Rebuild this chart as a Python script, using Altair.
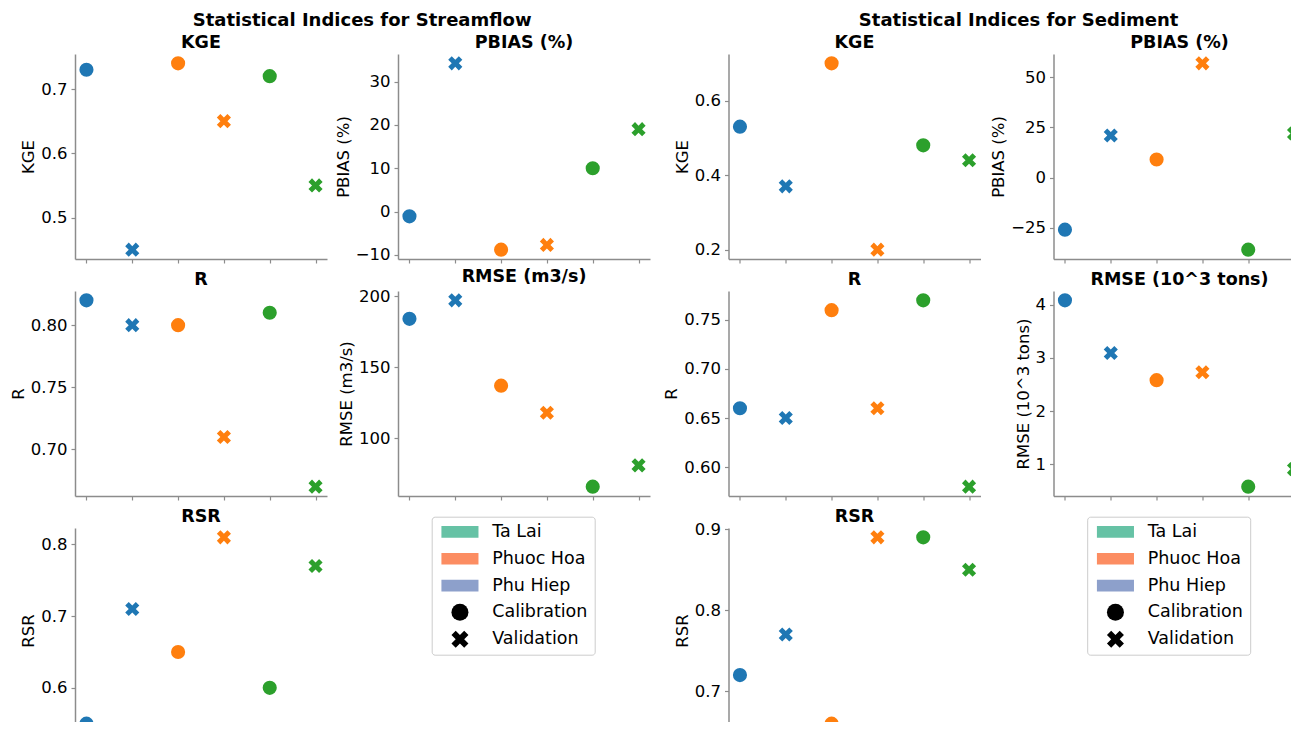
import altair as alt
import pandas as pd

FONT = "DejaVu Sans"

# ---- categories ----
stations = ["Phu Hiep", "Phu Hiep", "Phuoc Hoa", "Phuoc Hoa", "Ta Lai", "Ta Lai"]
periods = ["Calibration", "Validation", "Calibration", "Validation", "Calibration", "Validation"]
station_order = ["Phu Hiep", "Phuoc Hoa", "Ta Lai"]
period_order = ["Calibration", "Validation"]
point_keys = [f"{s} - {p}" for s, p in zip(stations, periods)]

# ---- streamflow indices ----
flow_kge = [0.73, 0.45, 0.74, 0.65, 0.72, 0.55]
flow_pbias = [-1.1, 34.2, -8.8, -7.7, 10.0, 19.0]
flow_r = [0.82, 0.80, 0.80, 0.71, 0.81, 0.67]
flow_rmse = [184, 197, 137, 118, 66, 81]
flow_rsr = [0.55, 0.71, 0.65, 0.81, 0.60, 0.77]

# ---- sediment indices ----
sed_kge = [0.53, 0.37, 0.70, 0.20, 0.48, 0.44]
sed_pbias = [-26, 21, 9, 57, -36, 22]
sed_r = [0.66, 0.65, 0.76, 0.66, 0.77, 0.58]
sed_rmse = [4.08, 3.09, 2.58, 2.73, 0.58, 0.91]
sed_rsr = [0.72, 0.77, 0.66, 0.89, 0.89, 0.85]

# ---- tick labels ----
flow_kge_ticks = [0.5, 0.6, 0.7]
flow_pbias_ticks = [-10, 0, 10, 20, 30]
flow_r_ticks = [0.70, 0.75, 0.80]
flow_rmse_ticks = [100, 150, 200]
flow_rsr_ticks = [0.6, 0.7, 0.8]
sed_kge_ticks = [0.2, 0.4, 0.6]
sed_pbias_ticks = [-25, 0, 25, 50]
sed_r_ticks = [0.60, 0.65, 0.70, 0.75]
sed_rmse_ticks = [1, 2, 3, 4]
sed_rsr_ticks = [0.7, 0.8, 0.9]

# ---- legend ----
legend_items = ["Ta Lai", "Phuoc Hoa", "Phu Hiep", "Calibration", "Validation"]
legend_colors = ["#66c2a5", "#fc8d62", "#8da0cb", "#000000", "#000000"]
station_colors = ["#1f77b4", "#ff7f0e", "#2ca02c"]

X_PATH = "M-0.5,-1L0,-0.5L0.5,-1L1,-0.5L0.5,0L1,0.5L0.5,1L0,0.5L-0.5,1L-1,0.5L-0.5,0L-1,-0.5Z"
RECT_PATH = "M-2.18,-0.69L2.18,-0.69L2.18,0.69L-2.18,0.69Z"
legend_shapes = [RECT_PATH, RECT_PATH, RECT_PATH, "circle", X_PATH]

W, H = 252, 205


def panel(title, ytitle, values, ticks, fmt, title_dy=0):
    df = pd.DataFrame({"key": point_keys, "station": stations, "period": periods, "value": values})
    lo, hi = min(values), max(values)
    pad = (hi - lo) * 0.05
    return alt.Chart(
        df,
        title=alt.TitleParams(title, anchor="middle", frame="group", fontSize=17.5,
                              fontWeight="bold", font=FONT, offset=2.3, dy=title_dy,
                              color="black"),
    ).mark_point(filled=True, size=200, opacity=1).encode(
        x=alt.X("key:N", sort=point_keys,
                scale=alt.Scale(type="point", padding=0.25),
                axis=alt.Axis(labels=False, title=None, ticks=True, domain=True, grid=False)),
        y=alt.Y("value:Q",
                scale=alt.Scale(domain=[lo - pad, hi + pad], nice=False, zero=False),
                axis=alt.Axis(values=ticks, format=fmt, title=ytitle, grid=False)),
        color=alt.Color("station:N", scale=alt.Scale(domain=station_order, range=station_colors), legend=None),
        shape=alt.Shape("period:N", scale=alt.Scale(domain=period_order, range=["circle", X_PATH]), legend=None),
    ).properties(width=W, height=H)


def legend_panel():
    df = pd.DataFrame({"item": legend_items, "hide": [-1.0] * len(legend_items)})
    leg = alt.Legend(title=None, orient="none", legendX=33.7, legendY=-11.3,
                     symbolSize=289, symbolStrokeWidth=0, labelFont=FONT, labelFontSize=17.5,
                     labelColor="black", padding=6.5, rowPadding=7.8, symbolOffset=13,
                     labelOffset=23.5, strokeColor="#cccccc", fillColor="white", cornerRadius=3)
    return alt.Chart(df).mark_point(filled=True, opacity=1, size=289, clip=True).encode(
        x=alt.X("hide:Q", scale=alt.Scale(domain=[0, 1]), axis=None),
        y=alt.Y("hide:Q", scale=alt.Scale(domain=[0, 1]), axis=None),
        color=alt.Color("item:N", scale=alt.Scale(domain=legend_items, range=legend_colors), legend=leg),
        shape=alt.Shape("item:N", scale=alt.Scale(domain=legend_items, range=legend_shapes), legend=leg),
    ).properties(width=W, height=H)


def group(title, panels, col_spacing, dx):
    return alt.concat(
        *panels, legend_panel(), columns=2,
        spacing={"row": 32, "column": col_spacing}, bounds="flush",
        title=alt.TitleParams(title, anchor="middle", frame="bounds", fontSize=18,
                              fontWeight="bold", font=FONT, offset=4, dx=dx, color="black"),
    ).resolve_scale(x="independent", y="independent", color="independent", shape="independent"
    ).resolve_legend(color="independent", shape="independent")


left = group("Statistical Indices for Streamflow", [
    panel("KGE", "KGE", flow_kge, flow_kge_ticks, ".1f"),
    panel("PBIAS (%)", "PBIAS (%)", flow_pbias, flow_pbias_ticks, "d"),
    panel("R", "R", flow_r, flow_r_ticks, ".2f"),
    panel("RMSE (m3/s)", "RMSE (m3/s)", flow_rmse, flow_rmse_ticks, "d"),
    panel("RSR", "RSR", flow_rsr, flow_rsr_ticks, ".1f"),
], 71, 32)

right = group("Statistical Indices for Sediment", [
    panel("KGE", "KGE", sed_kge, sed_kge_ticks, ".1f"),
    panel("PBIAS (%)", "PBIAS (%)", sed_pbias, sed_pbias_ticks, "d"),
    panel("R", "R", sed_r, sed_r_ticks, ".2f"),
    panel("RMSE (10^3 tons)", "RMSE (10^3 tons)", sed_rmse, sed_rmse_ticks, "d"),
    panel("RSR", "RSR", sed_rsr, sed_rsr_ticks, ".1f", title_dy=7),
], 73, 34)

chart = alt.hconcat(left, right, spacing=13.5, bounds="full").resolve_scale(
    x="independent", y="independent", color="independent", shape="independent"
).resolve_legend(color="independent", shape="independent").properties(
    padding={"left": 2, "top": 4, "right": -15, "bottom": -16}
).configure_axis(
    domainColor="#8c8c8c", domainWidth=1.5, tickColor="#8c8c8c", tickWidth=1.2, tickSize=4,
    labelFont=FONT, labelFontSize=16.5, labelColor="black", labelPadding=4,
    titleFont=FONT, titleFontSize=16.5, titleColor="black", titleFontWeight="normal",
    titlePadding=4, grid=False,
).configure_view(stroke=None)

chart.save("out.html", embed_options={"renderer": "svg", "actions": False})
